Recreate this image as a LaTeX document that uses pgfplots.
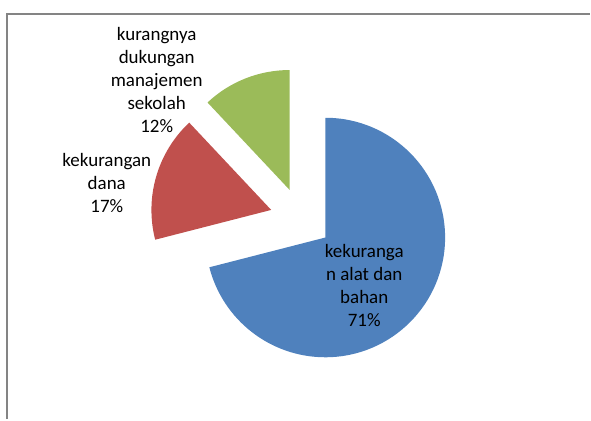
\documentclass[border=0pt]{standalone}
\usepackage{pgfplots}
\pgfplotsset{compat=1.18}
\usepackage{pgfplotstable}
\usepackage{fontspec}
\setmainfont{Carlito}

\definecolor{slblue}{HTML}{4F81BD}
\definecolor{slred}{HTML}{C0504D}
\definecolor{slgreen}{HTML}{9BBB59}
\definecolor{framegray}{HTML}{848484}

% shares in percent, clockwise from 12 o'clock
\pgfplotstableread{
share
71
17
12
}\pietable

\begin{document}
\begin{tikzpicture}
\pgfplotstablegetelem{0}{share}\of\pietable \let\sA\pgfplotsretval
\pgfplotstablegetelem{1}{share}\of\pietable \let\sB\pgfplotsretval
\pgfplotstablegetelem{2}{share}\of\pietable \let\sC\pgfplotsretval
\def\cx{301.5}\def\cy{201}\def\ex{31}\def\rad{120}
\pgfmathsetmacro{\aA}{90}
\pgfmathsetmacro{\aB}{\aA-3.6*\sA}
\pgfmathsetmacro{\aC}{\aB-3.6*\sB}
\pgfmathsetmacro{\aD}{\aC-3.6*\sC}
\pgfmathsetmacro{\xA}{\cx+\ex*cos((\aA+\aB)/2)}
\pgfmathsetmacro{\yA}{\cy+\ex*sin((\aA+\aB)/2)}
\pgfmathsetmacro{\xB}{\cx+\ex*cos((\aB+\aC)/2)}
\pgfmathsetmacro{\yB}{\cy+\ex*sin((\aB+\aC)/2)}
\pgfmathsetmacro{\xC}{\cx+\ex*cos((\aC+\aD)/2)}
\pgfmathsetmacro{\yC}{\cy+\ex*sin((\aC+\aD)/2)}
\begin{axis}[
    width=591bp, height=420bp, scale only axis,
    xmin=0, xmax=591, ymin=0, ymax=420,
    hide axis, clip=false,
]
\path (rel axis cs:0,0) rectangle (rel axis cs:1,1);
\draw[framegray, line width=2.4bp] (axis cs:7,0) -- (axis cs:7,406) -- (axis cs:591,406);

\fill[slblue] (axis cs:\xA,\yA) -- ++(\aA:\rad bp)
    arc[start angle=\aA, end angle=\aB, radius=\rad bp] -- cycle;
\fill[slred] (axis cs:\xB,\yB) -- ++(\aB:\rad bp)
    arc[start angle=\aB, end angle=\aC, radius=\rad bp] -- cycle;
\fill[slgreen] (axis cs:\xC,\yC) -- ++(\aC:\rad bp)
    arc[start angle=\aC, end angle=\aD, radius=\rad bp] -- cycle;

\tikzset{lbl/.style={align=center, inner sep=0pt, text=black,
    font=\fontsize{19bp}{23bp}\selectfont}}
\node[lbl] at (axis cs:365,134) {kekuranga\\n alat dan\\bahan\\\sA\%};
\node[lbl] at (axis cs:107,237) {kekurangan\\dana\\\sB\%};
\node[lbl] at (axis cs:157,339.5) {kurangnya\\dukungan\\manajemen\\sekolah\\\sC\%};
\end{axis}
\end{tikzpicture}
\end{document}
